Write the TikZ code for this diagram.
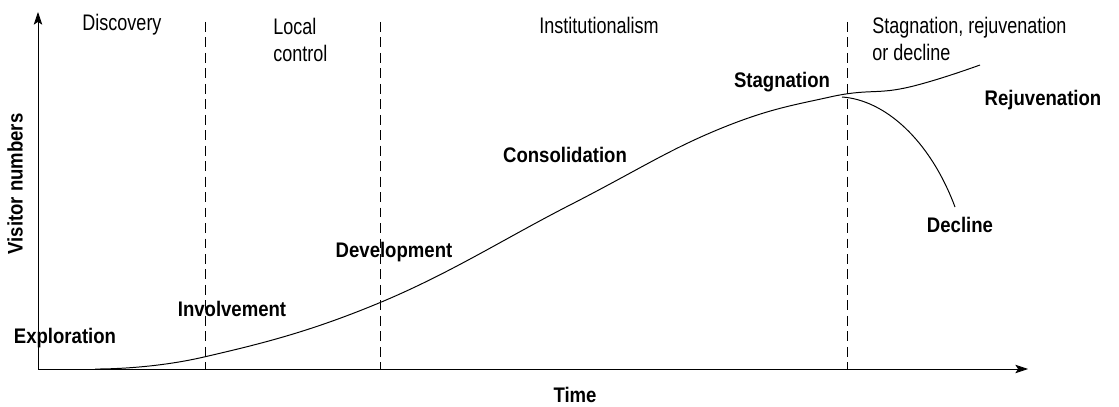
\documentclass[tikz,border=0pt]{standalone}
\usepackage{fontspec}
\setmainfont{Liberation Sans}[FakeStretch=0.8]
\newfontfamily\stagefont{Liberation Sans}[FakeStretch=0.88]
\usetikzlibrary{arrows.meta}
\tikzset{
  phase/.style={font=\fontsize{16}{19}\selectfont, inner sep=0pt},
  stage/.style={font=\stagefont\bfseries\fontsize{15}{18}\selectfont, inner sep=0pt},
  divider/.style={line width=0.6pt, dash pattern=on 7pt off 4pt},
  axis/.style={line width=0.6pt, -{Stealth[length=9pt,width=6pt,inset=2pt]}},
  lifecycle/.style={line width=0.7pt}
}

\begin{document}
\begin{tikzpicture}[x=0.025cm, y=-0.025cm]
			\useasboundingbox (0,0) rectangle (1119,407);
			% axes
			\coordinate (origin) at (38,369);
			\coordinate (ytop) at (38,12);
			\coordinate (xend) at (1028,369);
			\draw[axis] (origin) -- (ytop);
			\draw[axis] (origin) -- (xend);
			\node[stage, rotate=90] (ylab) at (15,184) {Visitor numbers};
			\node[stage] (xlab) at (575,395) {Time};
			% phase boundaries
			\draw[divider] (205,22) -- (205,369);
			\draw[divider] (380,22) -- (380,369);
			\draw[divider] (847,22) -- (847,369);
			\node[phase] (discovery) at (122,25) {Discovery};
			\node[phase, align=left, anchor=west] (local) at (273,40) {Local\\control};
			\node[phase] (institution) at (599,25) {Institutionalism};
			\node[phase, align=left, anchor=west] (later) at (872,39) {Stagnation, rejuvenation\\or decline};
			% the curve
			\draw[lifecycle] plot [smooth, tension=0.7] coordinates {
				(95,369) (204,357) (379,303) (570,205) (717,130) (830,97) (905,88) (980,65) };
			\draw[lifecycle] (842,97) .. controls (885,100) and (930,140) .. (955,207);
			% stages
			\node[stage] (exploration) at (65,338) {Exploration};
			\node[stage] (involvement) at (232,309) {Involvement};
			\node[stage] (development) at (394,252) {Development};
			\node[stage] (consolidation) at (565,155) {Consolidation};
			\node[stage] (stagnation) at (782,82) {Stagnation};
			\node[stage] (rejuvenation) at (1043,100) {Rejuvenation};
			\node[stage] (decline) at (960,225) {Decline};
		\end{tikzpicture}
\end{document}
